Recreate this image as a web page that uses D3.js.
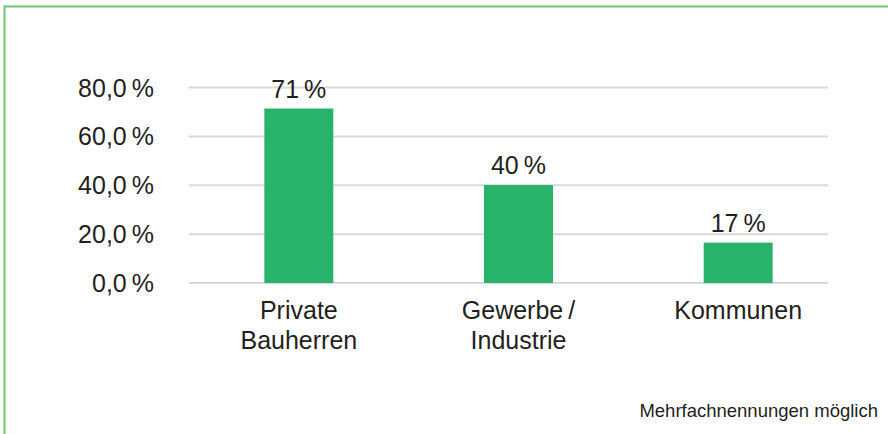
<!DOCTYPE html>
<html>
<head>
<meta charset="utf-8">
<script src="https://cdn.jsdelivr.net/npm/d3@7"></script>
<style>
    body { margin: 0; background: #fff; }
    text { font-family: "Liberation Sans", Arial, sans-serif; fill: #231f20; }
</style>
</head>
<body>
<script>
    var categories = [["Private", "Bauherren"], ["Gewerbe\u2009/", "Industrie"], ["Kommunen"]];
    var values = [71.4, 40.1, 16.5];
    var valueLabels = ["71\u2009%", "40\u2009%", "17\u2009%"];
    var yTicks = [0, 20, 40, 60, 80];
    var note = "Mehrfachnennungen möglich";

    var width = 888, height = 434;

    var svg = d3.select("body")
        .append("svg")
        .attr("width", width)
        .attr("height", height);

    // green frame (top + left only visible)
    svg.append("path")
        .attr("d", "M4.5,434V6.5H888")
        .attr("fill", "none")
        .attr("stroke", "#6cc86f")
        .attr("stroke-width", 2);

    var y = d3.scaleLinear().domain([0, 80]).range([283, 87.5]);
    var x = d3.scaleBand()
        .domain(d3.range(values.length))
        .range([189, 848])
        .paddingInner(0.686)
        .paddingOuter(0.343);

    svg.append("g").selectAll("line")
        .data(yTicks)
        .enter()
        .append("line")
        .attr("x1", 189)
        .attr("x2", 828)
        .attr("y1", function (d) { return y(d); })
        .attr("y2", function (d) { return y(d); })
        .attr("stroke", "#d9d9d9")
        .attr("stroke-width", 2);

    svg.append("g").selectAll("text")
        .data(yTicks)
        .enter()
        .append("text")
        .attr("x", 154)
        .attr("y", function (d) { return y(d) + 9; })
        .attr("text-anchor", "end")
        .style("font-size", "25px")
        .text(function (d) { return d.toFixed(1).replace(".", ",") + "\u2009%"; });

    svg.append("g").selectAll("rect")
        .data(values)
        .enter()
        .append("rect")
        .attr("x", function (d, i) { return x(i); })
        .attr("width", x.bandwidth())
        .attr("y", function (d) { return y(d); })
        .attr("height", function (d) { return y(0) - y(d); })
        .attr("fill", "#27b36a");

    svg.append("g").selectAll("text")
        .data(values)
        .enter()
        .append("text")
        .attr("x", function (d, i) { return x(i) + x.bandwidth() / 2; })
        .attr("y", function (d) { return y(d) - 11; })
        .attr("text-anchor", "middle")
        .style("font-size", "25px")
        .text(function (d, i) { return valueLabels[i]; });

    var cats = svg.append("g").selectAll("text")
        .data(categories)
        .enter()
        .append("text")
        .attr("text-anchor", "middle")
        .style("font-size", "25px");

    cats.selectAll("tspan")
        .data(function (d, i) { return d.map(function (s) { return { s: s, i: i }; }); })
        .enter()
        .append("tspan")
        .attr("x", function (d) { return x(d.i) + x.bandwidth() / 2; })
        .attr("y", function (d, j) { return 319 + j * 30; })
        .text(function (d) { return d.s; });

    svg.append("text")
        .attr("x", 878)
        .attr("y", 417)
        .attr("text-anchor", "end")
        .style("font-size", "18.5px")
        .text(note);
</script>
</body>
</html>
